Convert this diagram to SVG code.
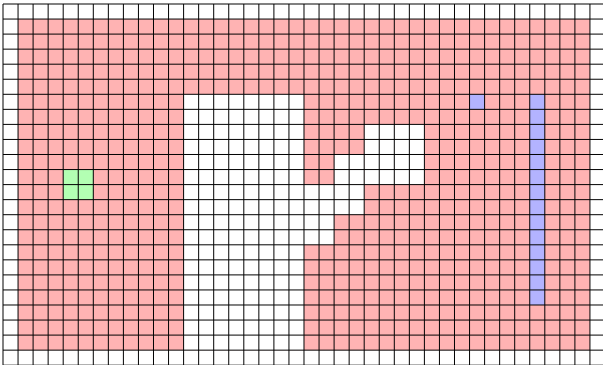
<svg xmlns="http://www.w3.org/2000/svg" width="603" height="365" viewBox="0 0 603 365">
  <style>
    .open { fill: #ffb3b3; }
    .free { fill: #ffffff; }
    .start { fill: #b3ffb3; }
    .goal { fill: #b3b3ff; }
    .grid { fill: none; stroke: #000000; stroke-width: 1; vector-effect: non-scaling-stroke; }
  </style>
  <rect x="0" y="0" width="603" height="365" fill="#ffffff"/>
  <g id="cells" transform="translate(3,4) scale(15.05)">
    <rect class="open" x="1" y="1" width="38" height="22"/>
    <rect class="free" x="12" y="6" width="8" height="17"/>
    <rect class="free" x="24" y="8" width="4" height="4"/>
    <rect class="free" x="22" y="10" width="2" height="2"/>
    <rect class="free" x="20" y="12" width="4" height="2"/>
    <rect class="free" x="20" y="14" width="2" height="2"/>
    <rect class="start" x="4" y="11" width="2" height="2"/>
    <rect class="goal" x="31" y="6" width="1" height="1"/>
    <rect class="goal" x="35" y="6" width="1" height="14"/>
  </g>
  <g id="gridlines" transform="translate(3,4) scale(15.05)">
    <path class="grid" d="M0 0V24.2M1 0V24.2M2 0V24.2M3 0V24.2M4 0V24.2M5 0V24.2M6 0V24.2M7 0V24.2M8 0V24.2M9 0V24.2M10 0V24.2M11 0V24.2M12 0V24.2M13 0V24.2M14 0V24.2M15 0V24.2M16 0V24.2M17 0V24.2M18 0V24.2M19 0V24.2M20 0V24.2M21 0V24.2M22 0V24.2M23 0V24.2M24 0V24.2M25 0V24.2M26 0V24.2M27 0V24.2M28 0V24.2M29 0V24.2M30 0V24.2M31 0V24.2M32 0V24.2M33 0V24.2M34 0V24.2M35 0V24.2M36 0V24.2M37 0V24.2M38 0V24.2M39 0V24.2M40 0V24.2"/>
    <path class="grid" d="M0 0H40M0 1H40M0 2H40M0 3H40M0 4H40M0 5H40M0 6H40M0 7H40M0 8H40M0 9H40M0 10H40M0 11H40M0 12H40M0 13H40M0 14H40M0 15H40M0 16H40M0 17H40M0 18H40M0 19H40M0 20H40M0 21H40M0 22H40M0 23H40M0 24H40"/>
  </g>
</svg>
